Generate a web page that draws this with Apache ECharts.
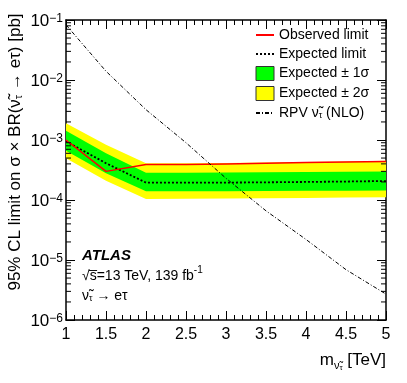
<!DOCTYPE html>
<html>
<head>
<meta charset="utf-8">
<script src="https://cdn.jsdelivr.net/npm/echarts@6/dist/echarts.min.js"></script>
<style>
    html, body { margin: 0; padding: 0; background: #fff; }
    #chart { width: 407px; height: 383px; }
</style>
</head>
<body>
<div id="chart"></div>
<script>
// sneutrino mass points [TeV]
const masses = [1, 1.5, 2, 2.5, 3, 3.5, 4, 4.5, 5];
// 95% CL limits [pb]
const observed = [1.0e-3, 3.0e-4, 3.9e-4, 3.9e-4, 4.0e-4, 4.1e-4, 4.2e-4, 4.3e-4, 4.4e-4];
const expected = [9.5e-4, 4.1e-4, 1.95e-4, 1.95e-4, 1.95e-4, 1.97e-4, 2.0e-4, 2.03e-4, 2.07e-4];
const plus1 = [1.43e-3, 6.0e-4, 2.85e-4, 2.85e-4, 2.87e-4, 2.9e-4, 2.92e-4, 2.95e-4, 2.98e-4];
const minus1 = [6.6e-4, 2.8e-4, 1.4e-4, 1.4e-4, 1.4e-4, 1.41e-4, 1.42e-4, 1.43e-4, 1.44e-4];
const plus2 = [1.9e-3, 8.3e-4, 4.1e-4, 4.1e-4, 4.15e-4, 4.2e-4, 4.3e-4, 4.4e-4, 4.5e-4];
const minus2 = [4.95e-4, 2.1e-4, 1.04e-4, 1.05e-4, 1.06e-4, 1.07e-4, 1.08e-4, 1.1e-4, 1.11e-4];
// RPV sneutrino cross-section (NLO)
const theory = [8.3e-2, 1.4e-2, 3.2e-3, 9.0e-4, 2.3e-4, 6.6e-5, 2.2e-5, 6.9e-6, 2.7e-6];
// log-axis minor tick positions
const minorY = [];
for (let e = -6; e < -1; e++) {
    for (let k = 2; k <= 9; k++) minorY.push(k * Math.pow(10, e));
}

const FONT = 'Liberation Sans';
const chart = echarts.init(document.getElementById('chart'), null, { renderer: 'canvas' });

const pairs = (ys) => masses.map((m, i) => [m, ys[i]]);

function bandSeries(name, lo, hi, color, z) {
    return {
        name: name,
        type: 'custom',
        z: z,
        itemStyle: { color: color },
        data: masses.map((m, i) => [m, lo[i], hi[i]]),
        encode: { x: 0, y: [1, 2] },
        renderItem: function (params, api) {
            if (params.dataIndex !== 0) return;
            const pts = [];
            for (let i = 0; i < masses.length; i++) pts.push(api.coord([masses[i], hi[i]]));
            for (let i = masses.length - 1; i >= 0; i--) pts.push(api.coord([masses[i], lo[i]]));
            return {
                type: 'polygon',
                shape: { points: pts },
                style: { fill: color, stroke: null }
            };
        }
    };
}

// minor ticks of the log axis, on both frame sides
const minorTickSeries = {
    type: 'custom',
    silent: true,
    z: 6,
    data: minorY.map(v => [1, v]),
    encode: { x: 0, y: 1 },
    renderItem: function (params, api) {
        if (params.dataIndex !== 0) return;
        const children = [];
        const st = { stroke: '#000', lineWidth: 1, lineDash: 'solid', opacity: 1 };
        minorY.forEach(v => {
            const l = api.coord([1, v]);
            const r = api.coord([5, v]);
            children.push({ type: 'line', shape: { x1: l[0], y1: l[1], x2: l[0] + 5, y2: l[1] }, style: Object.assign({}, st) });
            children.push({ type: 'line', shape: { x1: r[0], y1: r[1], x2: r[0] - 5, y2: r[1] }, style: Object.assign({}, st) });
        });
        return { type: 'group', children: children };
    }
};

const yMajorLabel = (v) => {
    const e = Math.round(Math.log10(v));
    return '{b|10}{s|\u2212' + Math.abs(e) + '}';
};

const tickStyle = () => ({ color: '#000', width: 1, type: 'solid', opacity: 1 });

function makeX(position, withLabels) {
    return {
        type: 'value',
        position: position,
        min: 1,
        max: 5,
        interval: 0.5,
        splitLine: { show: false },
        axisLine: { show: true, onZero: false, lineStyle: { color: '#000', width: 1.5 } },
        axisTick: { show: true, inside: true, length: 9, lineStyle: tickStyle() },
        minorTick: { show: true, splitNumber: 5, length: 5, lineStyle: tickStyle() },
        axisLabel: withLabels
            ? { show: true, color: '#000', fontSize: 16, fontFamily: FONT, margin: 7 }
            : { show: false }
    };
}

function makeY(position, label) {
    return {
        type: 'log',
        logBase: 10,
        position: position,
        min: 1e-6,
        max: 1e-1,
        splitLine: { show: false },
        axisLine: { show: true, onZero: false, lineStyle: { color: '#000', width: 1.5 } },
        axisTick: { show: true, inside: true, length: 9, lineStyle: tickStyle() },
        axisLabel: label || { show: false }
    };
}

const lineLegend = () => ({ itemStyle: { opacity: 0 } });

chart.setOption({
    animation: false,
    backgroundColor: '#fff',
    grid: { left: 66, right: 21, top: 20, bottom: 63 },
    legend: {
        orient: 'vertical',
        left: 255,
        top: 28,
        padding: 0,
        itemWidth: 18,
        itemHeight: 14,
        itemGap: 5,
        textStyle: {
            color: '#000',
            fontSize: 14,
            fontFamily: FONT,
            rich: {
                n: { fontSize: 14, fontFamily: FONT, color: '#000' },
                sub: { fontSize: 9, fontFamily: FONT, color: '#000', verticalAlign: 'bottom', padding: [6, 0, 0, 0] }
            }
        },
        formatter: (name) => name.startsWith('RPV') ? '{n|RPV \u03bd\u0303}{sub|\u03c4}{n| (NLO)}' : name,
        data: [
            Object.assign({ name: 'Observed limit' }, lineLegend()),
            Object.assign({ name: 'Expected limit' }, lineLegend()),
            { name: 'Expected \u00b1 1\u03c3', icon: 'rect', itemStyle: { color: '#00ff00', borderColor: '#333', borderWidth: 1 } },
            { name: 'Expected \u00b1 2\u03c3', icon: 'rect', itemStyle: { color: '#ffff00', borderColor: '#333', borderWidth: 1 } },
            Object.assign({ name: 'RPV \u03bd\u0303\u03c4 (NLO)' }, lineLegend())
        ]
    },
    xAxis: [makeX('bottom', true), makeX('top', false)],
    yAxis: [
        makeY('left', {
            show: true,
            color: '#000',
            margin: 3,
            formatter: yMajorLabel,
            padding: [2, 0, 0, 0],
            rich: {
                b: { fontSize: 17, fontFamily: FONT, color: '#000', lineHeight: 17, padding: [8, 0, 0, 0], verticalAlign: 'bottom' },
                s: { fontSize: 12, fontFamily: FONT, color: '#000', lineHeight: 12, verticalAlign: 'top' }
            }
        }),
        makeY('right')
    ],
    graphic: [{
        type: 'text',
        x: 15,
        y: 152,
        rotation: Math.PI / 2,
        style: {
            text: '{t|95% CL limit on \u03c3 \u00d7 BR(\u03bd\u0303}{sub|\u03c4}{t| \u2192 e\u03c4) [pb]}',
            align: 'center',
            verticalAlign: 'middle',
            rich: {
                t: { fontSize: 17, fontFamily: FONT, fill: '#000' },
                sub: { fontSize: 11, fontFamily: FONT, fill: '#000', verticalAlign: 'bottom', padding: [8, 0, 0, 0] }
            }
        }
    }, {
        type: 'text',
        right: 21,
        top: 352,
        style: {
            text: '{t|m}{sub|\u03bd\u0303}{ss|\u03c4}{t| [TeV]}',
            rich: {
                t: { fontSize: 17, fontFamily: FONT, fill: '#000' },
                sub: { fontSize: 11, fontFamily: FONT, fill: '#000', verticalAlign: 'bottom', padding: [8, 0, 0, 0] },
                ss: { fontSize: 8, fontFamily: FONT, fill: '#000', verticalAlign: 'bottom', padding: [14, 0, 0, 0] }
            }
        }
    }, {
        type: 'text',
        left: 82,
        top: 248,
        style: { text: 'ATLAS', fontSize: 15, fontWeight: 'bold', fontStyle: 'italic', fontFamily: FONT, fill: '#000' }
    }, {
        type: 'text',
        left: 82,
        top: 265,
        style: {
            text: '{t|\u221as\u0305=13 TeV, 139 fb}{sup|-1}',
            rich: {
                t: { fontSize: 14, fontFamily: FONT, fill: '#000', verticalAlign: 'bottom', padding: [4, 0, 0, 0] },
                sup: { fontSize: 10, fontFamily: FONT, fill: '#000', verticalAlign: 'top' }
            }
        }
    }, {
        type: 'text',
        left: 82,
        top: 289,
        style: {
            text: '{t|\u03bd\u0303}{sub|\u03c4}{t| \u2192 e\u03c4}',
            rich: {
                t: { fontSize: 14, fontFamily: FONT, fill: '#000' },
                sub: { fontSize: 9, fontFamily: FONT, fill: '#000', verticalAlign: 'bottom', padding: [6, 0, 0, 0] }
            }
        }
    }],
    series: [
        bandSeries('Expected \u00b1 2\u03c3', minus2, plus2, '#ffff00', 1),
        bandSeries('Expected \u00b1 1\u03c3', minus1, plus1, '#00ff00', 2),
        {
            name: 'Expected limit',
            type: 'line',
            z: 3,
            data: pairs(expected),
            symbol: 'none',
            color: '#000',
            lineStyle: { color: '#000', width: 1.8, type: [2, 2] }
        },
        {
            name: 'Observed limit',
            type: 'line',
            z: 4,
            data: pairs(observed),
            symbol: 'none',
            color: '#ff0000',
            lineStyle: { color: '#ff0000', width: 1.5 }
        },
        {
            name: 'RPV \u03bd\u0303\u03c4 (NLO)',
            type: 'line',
            z: 5,
            data: pairs(theory),
            symbol: 'none',
            color: '#000',
            lineStyle: { color: '#000', width: 1, type: [4, 2, 1, 2] }
        },
        minorTickSeries
    ]
});
</script>
</body>
</html>
